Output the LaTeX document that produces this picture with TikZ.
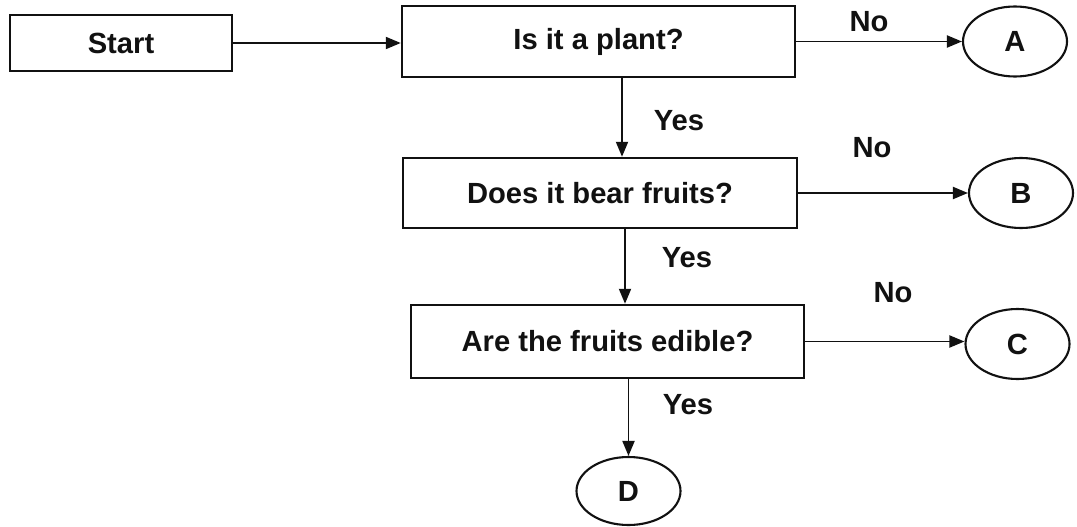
\documentclass[tikz,border=0pt]{standalone}
\usepackage{fontspec}
\setmainfont{Liberation Sans}
\usepackage{tikz}
\usetikzlibrary{arrows.meta,positioning,shapes.geometric}
\definecolor{ink}{HTML}{111111}
\newcommand{\chartfont}{\fontsize{16.6}{20}\selectfont\bfseries}
\tikzset{
  >={Triangle[length=3mm,width=2.4mm]},
  qbox/.style={draw=ink,line width=1.4pt,inner sep=0pt,text=ink,font=\chartfont},
  endnode/.style={ellipse,draw=ink,line width=1.2pt,inner sep=0pt,minimum width=2.08cm,minimum height=1.4cm,text=ink,font=\chartfont},
  flow/.style={->,line width=1.1pt,color=ink},
  answer/.style={text=ink,font=\chartfont,inner sep=0pt},
}

\begin{document}
\begin{tikzpicture}[x=1cm,y=1cm]
  \useasboundingbox (0,0) rectangle (21.54,-10.54);
  % questions
  \node[qbox,minimum width=4.44cm,minimum height=1.12cm] (start) at (2.42,-0.86) {Start};
  \node[qbox,minimum width=7.86cm,minimum height=1.42cm] (plant) at (11.97,-0.83) {Is it a plant?};
  \node[qbox,minimum width=7.88cm,minimum height=1.40cm] (fruits) at (12.0,-3.86) {Does it bear fruits?};
  \node[qbox,minimum width=7.86cm,minimum height=1.46cm] (edible) at (12.15,-6.83) {Are the fruits edible?};
  % outcomes
  \node[endnode] (endA) at (20.3,-0.83) {A};
  \node[endnode] (endB) at (20.42,-3.86) {B};
  \node[endnode] (endC) at (20.35,-6.88) {C};
  \node[endnode,minimum height=1.36cm] (endD) at (12.57,-9.82) {D};
  % arrows
  \draw[flow] (start.east) -- (start.east -| plant.west);
  \draw[flow] (plant.east) -- (endA.west);
  \draw[flow] (fruits.east) -- (endB.west);
  \draw[flow] (edible.east) -- (edible.east -| endC.west);
  \draw[flow] ([xshift=4.7mm]plant.south) -- ([xshift=4.7mm]plant.south |- fruits.north);
  \draw[flow] ([xshift=5mm]fruits.south) -- ([xshift=5mm]fruits.south |- edible.north);
  \draw[flow] (endD.north |- edible.south) -- (endD.north);
  % labels
  \node[answer] (no1) at (17.38,-0.44) {No};
  \node[answer] (no2) at (17.44,-2.96) {No};
  \node[answer] (no3) at (17.86,-5.86) {No};
  \node[answer] (yes1) at (13.58,-2.42) {Yes};
  \node[answer] (yes2) at (13.74,-5.16) {Yes};
  \node[answer] (yes3) at (13.76,-8.1) {Yes};
\end{tikzpicture}
\end{document}
